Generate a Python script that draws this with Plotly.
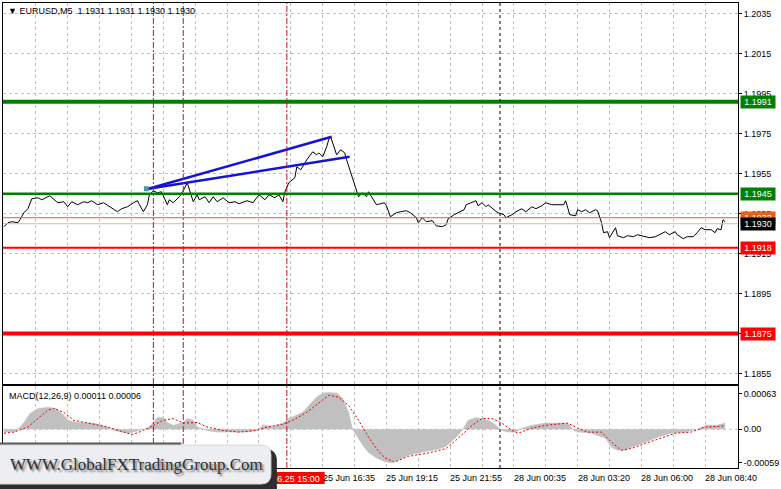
import plotly.graph_objects as go

# ---------------- data ----------------
title_text = "\u25BC EURUSD,M5  1.1931 1.1931 1.1930 1.1930"
macd_title = "MACD(12,26,9) 0.00011 0.00006"

bar_idx = [0, 2, 4, 7, 8, 10, 12, 13, 14, 17, 19, 23, 25, 27, 30, 32, 34, 37, 40, 42, 44, 47, 50, 53,
           57, 59, 62, 65, 67, 68, 70, 72, 73, 75, 77, 79, 82, 83, 85, 88, 90, 92, 93, 95, 97, 98,
           101, 103, 105, 107, 110, 113, 116, 118, 122, 125, 128, 131, 133, 136, 138, 140, 141, 143,
           146, 147, 149, 151, 152, 155, 157, 158, 160, 162, 163, 164, 166, 167, 169, 171, 172, 174,
           177, 178, 180, 182, 183, 186, 187, 191, 192, 194, 197, 199, 202, 204, 207, 208, 210, 212,
           215, 217, 220, 222, 223, 226, 228, 231, 232, 235, 237, 238, 240, 242, 243, 246, 248, 251,
           252, 255, 257, 260, 262, 265, 267, 270, 272, 275, 278, 281, 282, 284, 287, 288, 290, 292,
           294, 297, 298, 300, 301, 303, 304, 306, 307, 308, 311, 313, 316, 318, 322, 324, 327, 329,
           332, 334, 337, 338, 341, 343, 346, 348, 350, 352, 355, 357, 358, 360, 361, 362]
close = [1.19285, 1.19305, 1.1931, 1.19305, 1.1932, 1.19355, 1.19375, 1.19405, 1.19425, 1.1943, 1.1942,
         1.1944, 1.1942, 1.19405, 1.1941, 1.19385, 1.1941, 1.19395, 1.1941, 1.19405, 1.19415, 1.19395,
         1.19405, 1.19385, 1.1936, 1.19375, 1.19385, 1.19405, 1.19415, 1.19395, 1.1936, 1.19395,
         1.19445, 1.19465, 1.19455, 1.1946, 1.19395, 1.1942, 1.19405, 1.19435, 1.19465, 1.19505,
         1.1947, 1.1941, 1.19445, 1.1942, 1.19435, 1.19405, 1.19435, 1.1941, 1.1943, 1.19405, 1.1941,
         1.194, 1.19415, 1.19405, 1.19445, 1.1942, 1.19445, 1.1943, 1.19445, 1.1941, 1.1946, 1.19505,
         1.1953, 1.19585, 1.1957, 1.19605, 1.1962, 1.1966, 1.19645, 1.19655, 1.19635, 1.19685, 1.1972,
         1.19735, 1.1967, 1.19645, 1.1967, 1.19655, 1.1962, 1.19555, 1.1947, 1.19435, 1.19455,
         1.19435, 1.1946, 1.1941, 1.19395, 1.19405, 1.1939, 1.19335, 1.19355, 1.1936, 1.19365,
         1.19355, 1.1933, 1.19305, 1.1933, 1.1931, 1.19315, 1.1929, 1.19285, 1.19295, 1.19325,
         1.19345, 1.19355, 1.1937, 1.19395, 1.19405, 1.19415, 1.1939, 1.19405, 1.19385, 1.19395,
         1.1937, 1.19355, 1.19345, 1.1933, 1.19345, 1.1936, 1.19375, 1.1936, 1.19385, 1.19375, 1.1939,
         1.19405, 1.19395, 1.19395, 1.19395, 1.19415, 1.19345, 1.1934, 1.1937, 1.1936, 1.1937,
         1.19355, 1.1937, 1.19365, 1.19305, 1.19255, 1.1926, 1.1923, 1.1926, 1.1928, 1.1924, 1.1923,
         1.1924, 1.19235, 1.19245, 1.19235, 1.1923, 1.19235, 1.19245, 1.1926, 1.19245, 1.1926,
         1.19245, 1.19225, 1.19235, 1.19235, 1.19255, 1.1928, 1.1927, 1.1927, 1.19255, 1.19275,
         1.1927, 1.1932, 1.1931]

macd_idx = [0, 6, 10, 13, 17, 22, 26, 30, 32, 37, 45, 52, 55, 62, 65, 72, 75, 77, 80, 82, 85, 90, 92, 95,
            97, 102, 107, 115, 122, 127, 130, 135, 140, 143, 147, 150, 153, 157, 160, 163, 167, 170,
            173, 175, 177, 180, 183, 187, 191, 194, 198, 203, 208, 213, 218, 222, 227, 230, 233, 237,
            240, 243, 247, 250, 253, 257, 260, 265, 272, 278, 283, 286, 288, 295, 302, 305, 308, 312,
            315, 322, 328, 335, 342, 348, 353, 358, 362]
macd_val = [-0.00005, -0.00004, 0.00012, 0.00028, 0.00037, 0.00039, 0.00037, 0.00025, 0.00016, 0.00012,
            0.00011, 0.00004, -0.00002, -0.00007, -0.00005, 0.00002, 0.00012, 0.00021, 0.00021, 0.00012,
            0.00007, 0.00012, 0.00019, 0.00016, 0.00004, -0.00002, -0.00005, -0.00005, -0.00005,
            -0.00002, 0.00007, 0.00005, 0.00011, 0.00019, 0.00025, 0.0003, 0.00042, 0.00057, 0.00064,
            0.00065, 0.00064, 0.00055, 0.0003, 0.0, -0.00011, -0.00028, -0.00041, -0.00051, -0.00057,
            -0.00059, -0.00055, -0.00046, -0.00042, -0.00039, -0.00035, -0.0003, -0.00014, -0.00002,
            0.00016, 0.00021, 0.00019, 0.00016, 0.00007, -0.00002, -0.00005, -0.00005, 0.00002, 0.00007,
            0.00011, 0.00011, 0.00011, -0.00002, -0.00005, -0.00007, -0.00016, -0.00032, -0.00037,
            -0.00037, -0.00032, -0.00023, -0.00014, -0.00007, -0.00005, 0.0, 0.00007, 0.00007, 0.00011]

signal_idx = [0, 5, 12, 17, 22, 25, 30, 35, 42, 52, 62, 65, 70, 75, 80, 85, 90, 97, 102, 110, 118, 127,
              132, 140, 145, 152, 158, 163, 168, 173, 178, 183, 187, 191, 196, 203, 213, 222, 228, 235,
              240, 245, 250, 255, 258, 265, 272, 278, 283, 288, 293, 300, 305, 310, 315, 322, 330, 337,
              345, 352, 358, 362]
signal_val = [-0.00007, -0.00005, 0.00004, 0.00019, 0.00034, 0.00037, 0.0003, 0.00016, 0.00011, 0.00004,
              -0.00007, -0.00009, -0.00002, 0.00007, 0.00016, 0.00019, 0.00011, 0.00012, 0.00004,
              -0.00002, -0.00005, -0.00002, 0.00004, 0.00009, 0.00016, 0.0003, 0.00046, 0.0006, 0.00057,
              0.00042, 0.00016, -0.00014, -0.00034, -0.0005, -0.00058, -0.00048, -0.00042, -0.00034,
              -0.00016, 0.00007, 0.00019, 0.00019, 0.00011, -0.00002, -0.00007, 0.00002, 0.00007, 0.00009,
              0.00011, 0.00002, -0.00005, -0.00005, -0.00023, -0.00037, -0.00034, -0.00025, -0.00016,
              -0.00007, -0.00005, 0.00004, 0.00005, 0.00006]

levels = [1.1991, 1.1945, 1.1918, 1.1875]
level_labels = ["1.1991", "1.1945", "1.1918", "1.1875"]
level_colors = ["#008000", "#008000", "#ff0000", "#ff0000"]
level_widths = [4, 2.5, 2, 4]
orange_level = 1.1933
orange_label = "1.1933"
bid_level = 1.1930
bid_label = "1.1930"

trend_x = [[72.5, 164.5], [72.5, 173.5]]
trend_y = [[1.19475, 1.19735], [1.19475, 1.19635]]

red_vlines = [75, 90, 142]
black_vlines = [249]
red_vline_label = "25.06.25 15:00"

x_tick_idx = [160, 192, 224, 256, 288, 320, 352]
x_tick_text = ["25 Jun 16:35", "25 Jun 19:15", "25 Jun 21:55", "28 Jun 00:35",
               "28 Jun 03:20", "28 Jun 06:00", "28 Jun 08:40"]
grid_idx = list(range(0, 369, 16))
price_ticks = [1.2035, 1.2015, 1.1995, 1.1975, 1.1955, 1.1935, 1.1915, 1.1895, 1.1875, 1.1855]
price_tick_text = ["1.2035", "1.2015", "1.1995", "1.1975", "1.1955", "1.1935", "1.1915",
                   "1.1895", "1.1875", "1.1855"]
macd_ticks = [0.00063, 0.0, -0.00059]
macd_tick_text = ["0.00063", "0.00", "-0.00059"]
watermark = "WWW.GlobalFXTradingGroup.Com"

# ---------------- layout helpers ----------------
W, H = 781, 489
ML, MR, MT, MB = 2, 41, 3, 21
PW = W - ML - MR
PH = H - MT - MB


def pxx(px):
    return (px - ML) / PW


def pxy(py):
    return (H - MB - py) / PH


def rrect(x0, y0, x1, y1, r):
    pts = [("M", x0 + r, y0), ("L", x1 - r, y0), ("Q", x1, y0, x1, y0 + r), ("L", x1, y1 - r),
           ("Q", x1, y1, x1 - r, y1), ("L", x0 + r, y1), ("Q", x0, y1, x0, y1 - r),
           ("L", x0, y0 + r), ("Q", x0, y0, x0 + r, y0)]
    s = ""
    for p in pts:
        cmd = p[0]
        coords = p[1:]
        parts = []
        for i in range(0, len(coords), 2):
            parts.append("%.5f,%.5f" % (pxx(coords[i]), pxy(coords[i + 1])))
        s += cmd + " " + " ".join(parts) + " "
    return s + "Z"


FONT = "Liberation Sans, Arial, sans-serif"
GRID = "#c0c0c0"

fig = go.Figure()

# price line
fig.add_trace(go.Scatter(x=bar_idx, y=close, mode="lines", line=dict(color="black", width=1),
                         xaxis="x", yaxis="y", hoverinfo="skip"))
# trend lines
for tx, ty in zip(trend_x, trend_y):
    fig.add_trace(go.Scatter(x=tx, y=ty, mode="lines", line=dict(color="#1414d2", width=2.5),
                             xaxis="x", yaxis="y", hoverinfo="skip"))
fig.add_trace(go.Scatter(x=[trend_x[0][0] - 1], y=[trend_y[0][0]], mode="markers",
                         marker=dict(symbol="square", size=5, color="#4f93a8"),
                         xaxis="x", yaxis="y", hoverinfo="skip"))
# MACD histogram + signal
fig.add_trace(go.Scatter(x=macd_idx, y=macd_val, mode="lines", fill="tozeroy",
                         fillcolor="#c0c0c0", line=dict(color="#c0c0c0", width=0.5),
                         xaxis="x2", yaxis="y2", hoverinfo="skip"))
fig.add_trace(go.Scatter(x=signal_idx, y=signal_val, mode="lines",
                         line=dict(color="#e00000", width=1, dash="2px,2px"),
                         xaxis="x2", yaxis="y2", hoverinfo="skip"))

shapes = []
# zero line of MACD
shapes.append(dict(type="line", xref="x2 domain", x0=0, x1=1, yref="y2", y0=0, y1=0,
                   line=dict(color=GRID, width=1, dash="3px,3px"), layer="below"))
# bid / orange lines
shapes.append(dict(type="line", xref="x domain", x0=0, x1=1, yref="y", y0=bid_level, y1=bid_level,
                   line=dict(color="#c0c0c0", width=1)))
shapes.append(dict(type="line", xref="x domain", x0=0, x1=1, yref="y", y0=orange_level, y1=orange_level,
                   line=dict(color="#d2691e", width=1)))
# level lines
for lv, c, w in zip(levels, level_colors, level_widths):
    shapes.append(dict(type="line", xref="x domain", x0=0, x1=1, yref="y", y0=lv, y1=lv,
                       line=dict(color=c, width=w)))
# vertical lines
for v in red_vlines:
    shapes.append(dict(type="line", xref="x", x0=v, x1=v, yref="paper", y0=0, y1=1,
                       line=dict(color="#c8102e", width=1, dash="6px,2px,2px,2px")))
for v in black_vlines:
    shapes.append(dict(type="line", xref="x", x0=v, x1=v, yref="paper", y0=0, y1=1,
                       line=dict(color="black", width=1, dash="3px,3px")))
# red time label of the third vertical line (partly hidden by the watermark)
shapes.append(dict(type="rect", xref="paper", x0=pxx(255), x1=pxx(325), yref="paper",
                   y0=pxy(484), y1=pxy(472), fillcolor="#ff0000", line=dict(width=0),
                   label=dict(text=red_vline_label, font=dict(color="white", size=9, family=FONT),
                              textposition="middle center")))
# watermark box
shapes.append(dict(type="path", xref="paper", yref="paper", path=rrect(-14, 449, 277, 505, 12),
                   fillcolor="#2e2e2e", line=dict(width=0)))
shapes.append(dict(type="rect", xref="paper", yref="paper", x0=pxx(-5), x1=pxx(181),
                   y0=pxy(445.5), y1=pxy(442.5), fillcolor="#5a5a5a", line=dict(width=0)))
shapes.append(dict(type="path", xref="paper", yref="paper", path=rrect(-14, 445, 271, 484, 10),
                   fillcolor="#eceef1", line=dict(color="#d8d8dc", width=1)))

annotations = []
annotations.append(dict(xref="paper", yref="paper", x=pxx(5), y=pxy(11), xanchor="left", yanchor="middle",
                        text=title_text, showarrow=False, font=dict(family=FONT, size=9, color="black")))
annotations.append(dict(xref="paper", yref="paper", x=pxx(6), y=pxy(396), xanchor="left", yanchor="middle",
                        text=macd_title, showarrow=False, font=dict(family=FONT, size=9, color="black")))
for xi, t in zip(x_tick_idx, x_tick_text):
    annotations.append(dict(xref="x2", yref="paper", x=xi, y=pxy(478), xanchor="left", yanchor="middle",
                            xshift=-2, text=t, showarrow=False,
                            font=dict(family=FONT, size=9, color="black")))
# right axis price labels
right_labels = [(orange_level, orange_label, "#e8611a"), (bid_level, bid_label, "#000000")]
right_labels += list(zip(levels, level_labels, level_colors))
for lv, t, c in right_labels:
    annotations.append(dict(xref="paper", yref="y", x=pxx(742), y=lv, xanchor="left", yanchor="middle",
                            text=t, showarrow=False, bgcolor=c, borderpad=1, width=32,
                            font=dict(family=FONT, size=9, color="white")))
annotations.append(dict(xref="paper", yref="paper", x=pxx(136), y=pxy(464), xanchor="center",
                        yanchor="middle", text=watermark, showarrow=False,
                        font=dict(family="Liberation Serif, Times New Roman, serif", size=17,
                                  color="#2e2e2e", shadow="2px 2px 2px #777777")))

axis_common = dict(showline=True, linecolor="black", linewidth=1, mirror=True, zeroline=False)

fig.update_layout(
    width=W, height=H, margin=dict(l=ML, r=MR, t=MT, b=MB),
    paper_bgcolor="white", plot_bgcolor="white", showlegend=False,
    xaxis=dict(domain=[0, 1], anchor="y", range=[-0.5, 368.5], tickvals=grid_idx,
               showticklabels=False, ticks="", showgrid=True, gridcolor=GRID, griddash="3px,3px",
               gridwidth=1, **axis_common),
    xaxis2=dict(domain=[0, 1], anchor="y2", range=[-0.5, 368.5], matches="x", tickvals=grid_idx,
                showticklabels=False, ticks="", showgrid=True, gridcolor=GRID, griddash="3px,3px",
                gridwidth=1, **axis_common),
    yaxis=dict(domain=[pxy(383.5), 1], anchor="x", side="right", range=[1.1850, 1.20405],
               tickvals=price_ticks, ticktext=price_tick_text, ticks="outside", ticklen=3,
               tickcolor="black", tickfont=dict(family=FONT, size=9, color="black"),
               showgrid=True, gridcolor=GRID, griddash="3px,3px", gridwidth=1, **axis_common),
    yaxis2=dict(domain=[0, pxy(386)], anchor="x2", side="right", range=[-0.000685, 0.000766],
                tickvals=macd_ticks, ticktext=macd_tick_text, ticks="outside", ticklen=3,
                tickcolor="black", tickfont=dict(family=FONT, size=9, color="black"),
                showgrid=False, **axis_common),
    shapes=shapes, annotations=annotations,
)

fig.write_html("out.html", config={"displayModeBar": False},
               post_script="document.body.style.margin='0';document.body.style.overflow='hidden';")
